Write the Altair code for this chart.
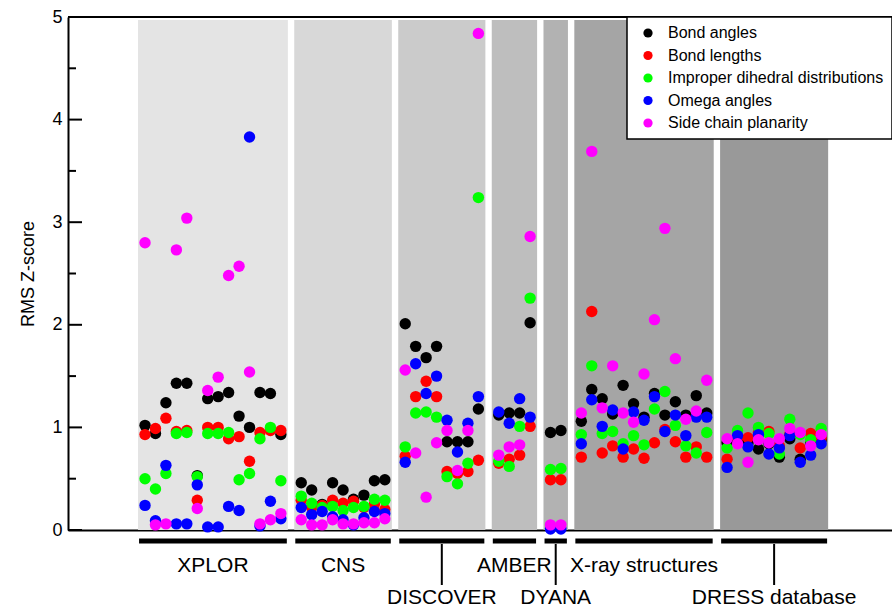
import altair as alt
import pandas as pd

# ---------------- data ----------------
groups = ["XPLOR", "CNS", "DISCOVER", "AMBER", "DYANA", "X-ray structures", "DRESS database"]
counts = [14, 9, 8, 4, 2, 13, 10]
label_rows = [1, 1, 2, 1, 2, 1, 2]
band_colors = ["#e4e4e4", "#d8d8d8", "#cbcbcb", "#bebebe", "#b2b2b2", "#a5a5a5", "#999999"]

series = ["Bond angles", "Bond lengths", "Improper dihedral distributions",
          "Omega angles", "Side chain planarity"]
series_colors = ["#000000", "#ff0000", "#00ff00", "#0000ff", "#ff00ff"]

bond_angles = [
    1.02, 0.94, 1.24, 1.43, 1.43, 0.53, 1.28, 1.30, 1.34, 1.11, 1.00, 1.34, 1.33, 0.93,
    0.46, 0.39, 0.25, 0.46, 0.39, 0.30, 0.34, 0.48, 0.49,
    2.01, 1.79, 1.68, 1.79, 0.86, 0.86, 0.86, 1.18,
    1.12, 1.14, 1.14, 2.02,
    0.95, 0.97,
    1.06, 1.37, 1.28, 1.13, 1.41, 1.23, 1.10, 1.33, 1.12, 1.25, 1.12, 1.31, 1.14,
    0.85, 0.86, 0.85, 0.79, 0.84, 0.71, 0.89, 0.69, 0.84, 0.88,
]
bond_lengths = [
    0.93, 0.99, 1.09, 0.96, 0.97, 0.29, 1.00, 1.00, 0.89, 0.91, 0.67, 0.95, 0.97, 0.97,
    0.29, 0.22, 0.24, 0.29, 0.26, 0.28, 0.22, 0.25, 0.20,
    0.72, 1.30, 1.45, 1.30, 0.57, 0.55, 0.57, 0.68,
    0.65, 0.69, 0.73, 1.01,
    0.49, 0.49,
    0.71, 2.13, 0.75, 0.82, 0.71, 0.79, 0.70, 0.85, 0.98, 0.86, 0.71, 0.81, 0.71,
    0.69, 0.90, 0.90, 0.95, 0.96, 0.82, 0.93, 0.80, 0.94, 0.90,
]
improper_dihedral = [
    0.50, 0.40, 0.55, 0.94, 0.95, 0.52, 0.94, 0.94, 0.95, 0.49, 0.55, 0.89, 1.00, 0.48,
    0.33, 0.26, 0.22, 0.23, 0.19, 0.22, 0.23, 0.30, 0.29,
    0.81, 1.14, 1.15, 1.10, 0.52, 0.45, 0.65, 3.24,
    0.67, 0.62, 1.01, 2.26,
    0.59, 0.60,
    0.93, 1.60, 0.94, 0.96, 0.84, 0.92, 0.83, 1.18, 1.35, 1.02, 0.82, 0.75, 0.95,
    0.80, 0.97, 1.14, 1.00, 0.94, 0.74, 1.08, 0.93, 0.88, 0.99,
]
omega_angles = [
    0.24, 0.09, 0.63, 0.06, 0.06, 0.44, 0.03, 0.03, 0.23, 0.19, 3.83, 0.04, 0.28, 0.11,
    0.22, 0.15, 0.18, 0.13, 0.10, 0.05, 0.12, 0.18, 0.16,
    0.66, 1.62, 1.33, 1.50, 1.07, 0.76, 1.04, 1.30,
    1.15, 1.04, 1.28, 1.10,
    0.01, 0.01,
    0.84, 1.27, 1.01, 1.17, 0.79, 1.15, 1.07, 1.30, 0.96, 1.12, 0.92, 1.10, 1.10,
    0.61, 0.92, 0.81, 0.93, 0.74, 0.80, 0.92, 0.66, 0.73, 0.84,
]
side_chain_planarity = [
    2.80, 0.05, 0.06, 2.73, 3.04, 0.21, 1.36, 1.49, 2.48, 2.57, 1.54, 0.06, 0.10, 0.16,
    0.10, 0.05, 0.05, 0.10, 0.06, 0.06, 0.07, 0.07, 0.11,
    1.56, 0.75, 0.32, 0.85, 0.97, 0.58, 0.97, 4.84,
    0.73, 0.81, 0.83, 2.86,
    0.05, 0.05,
    1.14, 3.69, 1.19, 1.60, 1.14, 1.05, 1.52, 2.05, 2.94, 1.67, 1.08, 1.16, 1.46,
    0.89, 0.84, 0.66, 0.88, 0.85, 0.89, 0.99, 0.95, 0.82, 0.93,
]
y_major = [0, 1, 2, 3, 4, 5]
y_minor = [0.5, 1.5, 2.5, 3.5, 4.5]

# ---------------- layout ----------------
W, H = 824, 513
GROUP_STEP = 1.95   # distance between last structure of a group and first of the next
BAND_PAD = 0.67     # band margin around first/last structure
FONT = "Liberation Sans"

positions, starts = [], []
s = 0.0
for n in counts:
    starts.append(s)
    positions += [s + j for j in range(n)]
    s += (n - 1) + GROUP_STEP

bands = pd.DataFrame({
    "group": groups,
    "x0": [st - BAND_PAD for st in starts],
    "x1": [st + n - 1 + BAND_PAD for st, n in zip(starts, counts)],
    "fill": band_colors,
    "center": [st + (n - 1) / 2 for st, n in zip(starts, counts)],
    "row": label_rows,
})
bands["b0"] = bands["x0"] + 0.1
bands["b1"] = bands["x1"] - 0.1

all_vals = [bond_angles, bond_lengths, improper_dihedral, omega_angles, side_chain_planarity]
rows = []
for si, (name, vals) in enumerate(zip(series, all_vals)):
    for p, v in zip(positions, vals):
        rows.append({"pos": p, "value": v, "series": name, "sidx": si})
pts = pd.DataFrame(rows)

xscale = alt.Scale(domain=[-7.37, 71.48], nice=False, zero=False)
yscale = alt.Scale(domain=[0, 5], nice=False)
xaxis = alt.Axis(labels=False, ticks=False, grid=False, title=None,
                 domainColor="black", domainWidth=2)
yaxis = alt.Axis(values=y_major, grid=False, ticks=False, title="RMS Z-score",
                 labelFontSize=18, labelColor="black", labelPadding=6, labelFont=FONT,
                 titleFontSize=18, titleFontWeight="normal", titleFont=FONT,
                 titleColor="black", titlePadding=14,
                 domainColor="black", domainWidth=2)

band_layer = alt.Chart(bands).mark_rect().encode(
    x=alt.X("x0:Q", scale=xscale, axis=xaxis),
    x2="x1:Q",
    y=alt.value(3),
    y2=alt.value(H),
    fill=alt.Fill("fill:N", scale=None),
)

top_line = alt.Chart(bands).mark_rule(color="black", strokeWidth=2).encode(
    x=alt.value(0), x2=alt.value(W), y=alt.value(0)
)

major_ticks = alt.Chart(pd.DataFrame({"v": y_major})).mark_rule(color="black", strokeWidth=2).encode(
    y=alt.Y("v:Q", scale=yscale, axis=yaxis), x=alt.value(0), x2=alt.value(14)
)
minor_ticks = alt.Chart(pd.DataFrame({"v": y_minor})).mark_rule(color="black", strokeWidth=2).encode(
    y=alt.Y("v:Q", scale=yscale, axis=yaxis), x=alt.value(0), x2=alt.value(8)
)

points = alt.Chart(pts).mark_circle(size=130, opacity=1).encode(
    x=alt.X("pos:Q", scale=xscale, axis=xaxis),
    y=alt.Y("value:Q", scale=yscale, axis=yaxis),
    color=alt.Color("series:N",
                    scale=alt.Scale(domain=series, range=series_colors),
                    legend=alt.Legend(title=None, orient="none", legendX=559, legendY=0,
                                      labelFontSize=16, labelFont=FONT, labelColor="black",
                                      symbolSize=85, symbolType="circle",
                                      rowPadding=6.5, padding=8,
                                      strokeColor="black", fillColor="white",
                                      symbolOffset=5, labelOffset=12, labelLimit=400)),
    order=alt.Order("sidx:Q"),
)

group_bars = alt.Chart(bands).mark_rule(color="black", strokeWidth=5).encode(
    x=alt.X("b0:Q", scale=xscale, axis=xaxis), x2="b1:Q", y=alt.value(H + 11)
)
group_lines = alt.Chart(bands).transform_filter("datum.row == 2").mark_rule(
    color="black", strokeWidth=2).encode(
    x=alt.X("center:Q", scale=xscale, axis=xaxis), y=alt.value(H + 14), y2=alt.value(H + 55)
)
labels1 = alt.Chart(bands).transform_filter("datum.row == 1").mark_text(
    fontSize=21, font=FONT, color="black", align="center", baseline="middle").encode(
    x=alt.X("center:Q", scale=xscale, axis=xaxis), y=alt.value(H + 36), text="group:N"
)
labels2 = alt.Chart(bands).transform_filter("datum.row == 2").mark_text(
    fontSize=21, font=FONT, color="black", align="center", baseline="middle").encode(
    x=alt.X("center:Q", scale=xscale, axis=xaxis), y=alt.value(H + 68), text="group:N"
)

chart = alt.layer(
    band_layer, top_line, major_ticks, minor_ticks, points,
    group_bars, group_lines, labels1, labels2
).properties(
    width=W, height=H,
    padding={"left": 68, "top": 17, "right": 0, "bottom": 77},
    autosize=alt.AutoSizeParams(type="none"),
).configure_view(stroke=None).configure(font=FONT).configure_legend(strokeWidth=1.5)

chart.save("out.html", embed_options={"renderer": "svg", "actions": False})
